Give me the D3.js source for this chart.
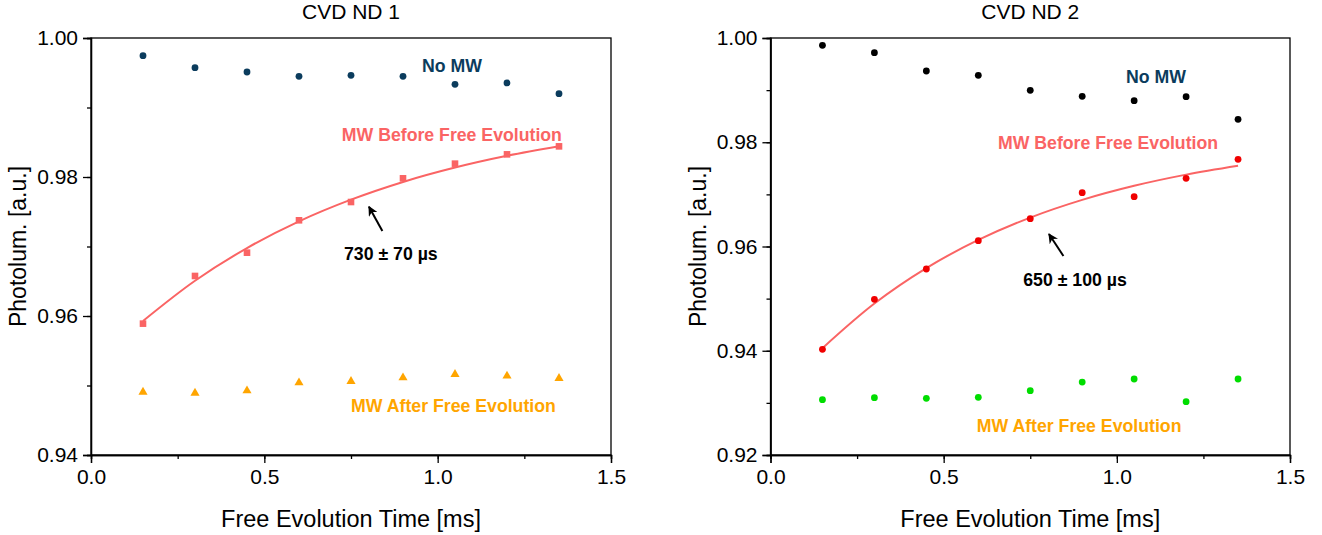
<!DOCTYPE html>
<html>
<head>
<meta charset="utf-8">
<script src="https://cdn.jsdelivr.net/npm/d3@7"></script>
<style>
  body { margin: 0; background: #fff; }
  svg { display: block; font-family: "Liberation Sans", Arial, sans-serif; }
</style>
</head>
<body>
<svg id="chart" width="1322" height="535"></svg>
<script>
// ---------- data ----------
const times = [0.15, 0.30, 0.45, 0.60, 0.75, 0.90, 1.05, 1.20, 1.35];

// CVD ND 1
const nd1NoMW   = [0.99746, 0.99573, 0.99511, 0.99448, 0.99463, 0.99448, 0.99333, 0.99353, 0.99199];
const nd1Before = [0.95890, 0.96576, 0.96911, 0.97377, 0.97640, 0.97981, 0.98192, 0.98326, 0.98441];
const nd1Fit    = [0.95928, 0.96507, 0.96978, 0.97362, 0.97674, 0.97929, 0.98136, 0.98305, 0.98442];
const nd1After  = [0.94906, 0.94892, 0.94925, 0.95041, 0.95060, 0.95113, 0.95161, 0.95137, 0.95103];

// CVD ND 2
const nd2NoMW   = [0.99859, 0.99719, 0.99367, 0.99284, 0.98996, 0.98881, 0.98798, 0.98874, 0.98439];
const nd2Before = [0.94027, 0.94986, 0.95568, 0.96112, 0.96534, 0.97033, 0.96956, 0.97308, 0.97672];
const nd2Fit    = [0.94050, 0.94906, 0.95586, 0.96126, 0.96555, 0.96895, 0.97165, 0.97379, 0.97550];
const nd2After  = [0.93062, 0.93100, 0.93087, 0.93106, 0.93234, 0.93400, 0.93458, 0.93023, 0.93458];

const xTicks = [0.0, 0.5, 1.0, 1.5];
const nd1YTicks = [0.94, 0.96, 0.98, 1.00];
const nd2YTicks = [0.92, 0.94, 0.96, 0.98, 1.00];

const titles = ["CVD ND 1", "CVD ND 2"];
const xLabel = "Free Evolution Time [ms]";
const yLabel = "Photolum. [a.u.]";
const seriesLabels = ["No MW", "MW Before Free Evolution", "MW After Free Evolution"];
const tauLabels = ["730 ± 70 µs", "650 ± 100 µs"];

// ---------- layout / style ----------
const panels = [
  { left: 91, right: 611, top: 38, bottom: 455, yDomain: [0.94, 1.00],
    title: titles[0], yTicks: nd1YTicks, noMW: nd1NoMW, before: nd1Before, fit: nd1Fit, after: nd1After,
    noMWColor: "#0b3c5d", beforeColor: "#fa6464", afterColor: "#ffa500",
    beforeShape: "square", afterShape: "triangle", noMWShape: "circle",
    tau: tauLabels[0],
    labels: { noMW: [1.041, 0.99597], before: [1.041, 0.98604], after: [1.0456, 0.94705], tau: [0.865, 0.96892] },
    arrow: [[0.8405, 0.97223], [0.8018, 0.97573]] },
  { left: 770.5, right: 1290, top: 38, bottom: 455, yDomain: [0.92, 1.00],
    title: titles[1], yTicks: nd2YTicks, noMW: nd2NoMW, before: nd2Before, fit: nd2Fit, after: nd2After,
    noMWColor: "#000000", beforeColor: "#f00000", afterColor: "#00dd00",
    beforeShape: "circle", afterShape: "circle", noMWShape: "circle",
    tau: tauLabels[1],
    labels: { noMW: [1.113, 0.99252], before: [0.9746, 0.9798], after: [0.891, 0.92562], tau: [0.8793, 0.95352] },
    arrow: [[0.8458, 0.95818], [0.8040, 0.96240]] }
];

const svg = d3.select("#chart");
const defs = svg.append("defs");
defs.append("marker")
  .attr("id", "arrowhead")
  .attr("viewBox", "0 0 10 10")
  .attr("refX", 9).attr("refY", 5)
  .attr("markerWidth", 5).attr("markerHeight", 5)
  .attr("markerUnits", "strokeWidth")
  .attr("orient", "auto")
  .append("path").attr("d", "M0,0 L10,5 L0,10 L3,5 Z").attr("fill", "#000");

panels.forEach(p => {
  const x = d3.scaleLinear().domain([0, 1.5]).range([p.left, p.right]);
  const y = d3.scaleLinear().domain(p.yDomain).range([p.bottom, p.top]);
  const g = svg.append("g");

  // frame (top & right)
  g.append("rect")
    .attr("x", p.left).attr("y", p.top)
    .attr("width", p.right - p.left).attr("height", p.bottom - p.top)
    .attr("fill", "none").attr("stroke", "#000").attr("stroke-width", 1.3);

  // x axis
  const xMinor = d3.range(0, 1.5001, 0.25);
  const xAxisMinor = d3.axisBottom(x).tickValues(xMinor).tickSize(4).tickFormat("");
  const xAxis = d3.axisBottom(x).tickValues(xTicks).tickSize(8).tickPadding(6).tickFormat(d3.format(".1f"));
  const gxm = g.append("g").attr("transform", `translate(0,${p.bottom})`).call(xAxisMinor);
  const gx = g.append("g").attr("transform", `translate(0,${p.bottom})`).call(xAxis);
  [gx, gxm].forEach(a => {
    a.select(".domain").attr("stroke-width", 1.3);
    a.selectAll(".tick line").attr("stroke-width", 1.3);
  });
  gx.selectAll(".tick text").attr("font-size", 21).attr("fill", "#000").attr("font-family", "Liberation Sans, Arial, sans-serif");

  // y axis
  const step = 0.01;
  const yMinor = d3.range(0, Math.round((p.yDomain[1] - p.yDomain[0]) / step) + 1).map(i => p.yDomain[0] + i * step);
  const yAxisMinor = d3.axisLeft(y).tickValues(yMinor).tickSize(4).tickFormat("");
  const yAxis = d3.axisLeft(y).tickValues(p.yTicks).tickSize(8).tickPadding(5).tickFormat(d3.format(".2f"));
  const gym = g.append("g").attr("transform", `translate(${p.left},0)`).call(yAxisMinor);
  const gy = g.append("g").attr("transform", `translate(${p.left},0)`).call(yAxis);
  [gy, gym].forEach(a => {
    a.select(".domain").attr("stroke-width", 1.3);
    a.selectAll(".tick line").attr("stroke-width", 1.3);
  });
  gy.selectAll(".tick text").attr("font-size", 21).attr("fill", "#000").attr("font-family", "Liberation Sans, Arial, sans-serif");

  // titles
  const cx = (p.left + p.right) / 2;
  g.append("text").attr("x", cx).attr("y", 19).attr("text-anchor", "middle")
    .attr("font-size", 21).text(p.title);
  g.append("text").attr("x", cx).attr("y", 527).attr("text-anchor", "middle")
    .attr("font-size", 23.5).text(xLabel);
  g.append("text")
    .attr("transform", `translate(${p.left - 65},${(p.top + p.bottom) / 2}) rotate(-90)`)
    .attr("text-anchor", "middle").attr("font-size", 23).text(yLabel);

  // fit line
  const line = d3.line().x((d, i) => x(times[i])).y(d => y(d)).curve(d3.curveCatmullRom);
  g.append("path").datum(p.fit).attr("d", line)
    .attr("fill", "none").attr("stroke", "#fa6464").attr("stroke-width", 2);

  // markers
  function drawSeries(vals, shape, color) {
    const sg = g.append("g");
    vals.forEach((v, i) => {
      const px = x(times[i]), py = y(v);
      if (shape === "circle") {
        sg.append("circle").attr("cx", px).attr("cy", py).attr("r", 3.4).attr("fill", color);
      } else if (shape === "square") {
        sg.append("rect").attr("x", px - 3.3).attr("y", py - 3.3).attr("width", 6.6).attr("height", 6.6).attr("fill", color);
      } else {
        const s = d3.symbol().type(d3.symbolTriangle).size(36);
        sg.append("path").attr("d", s()).attr("transform", `translate(${px},${py})`).attr("fill", color);
      }
    });
  }
  drawSeries(p.noMW, p.noMWShape, p.noMWColor);
  drawSeries(p.before, p.beforeShape, p.beforeColor);
  drawSeries(p.after, p.afterShape, p.afterColor);

  // labels
  const L = p.labels;
  function label(pos, txt, color) {
    g.append("text").attr("x", x(pos[0])).attr("y", y(pos[1]))
      .attr("text-anchor", "middle").attr("dominant-baseline", "central")
      .attr("font-size", 17.7).attr("font-weight", "bold").attr("fill", color).text(txt);
  }
  label(L.noMW, seriesLabels[0], "#0b3c5d");
  label(L.before, seriesLabels[1], "#fa6464");
  label(L.after, seriesLabels[2], "#ffa500");
  label(L.tau, p.tau, "#000");

  // arrow
  g.append("line")
    .attr("x1", x(p.arrow[0][0])).attr("y1", y(p.arrow[0][1]))
    .attr("x2", x(p.arrow[1][0])).attr("y2", y(p.arrow[1][1]))
    .attr("stroke", "#000").attr("stroke-width", 2)
    .attr("marker-end", "url(#arrowhead)");
});
</script>
</body>
</html>
